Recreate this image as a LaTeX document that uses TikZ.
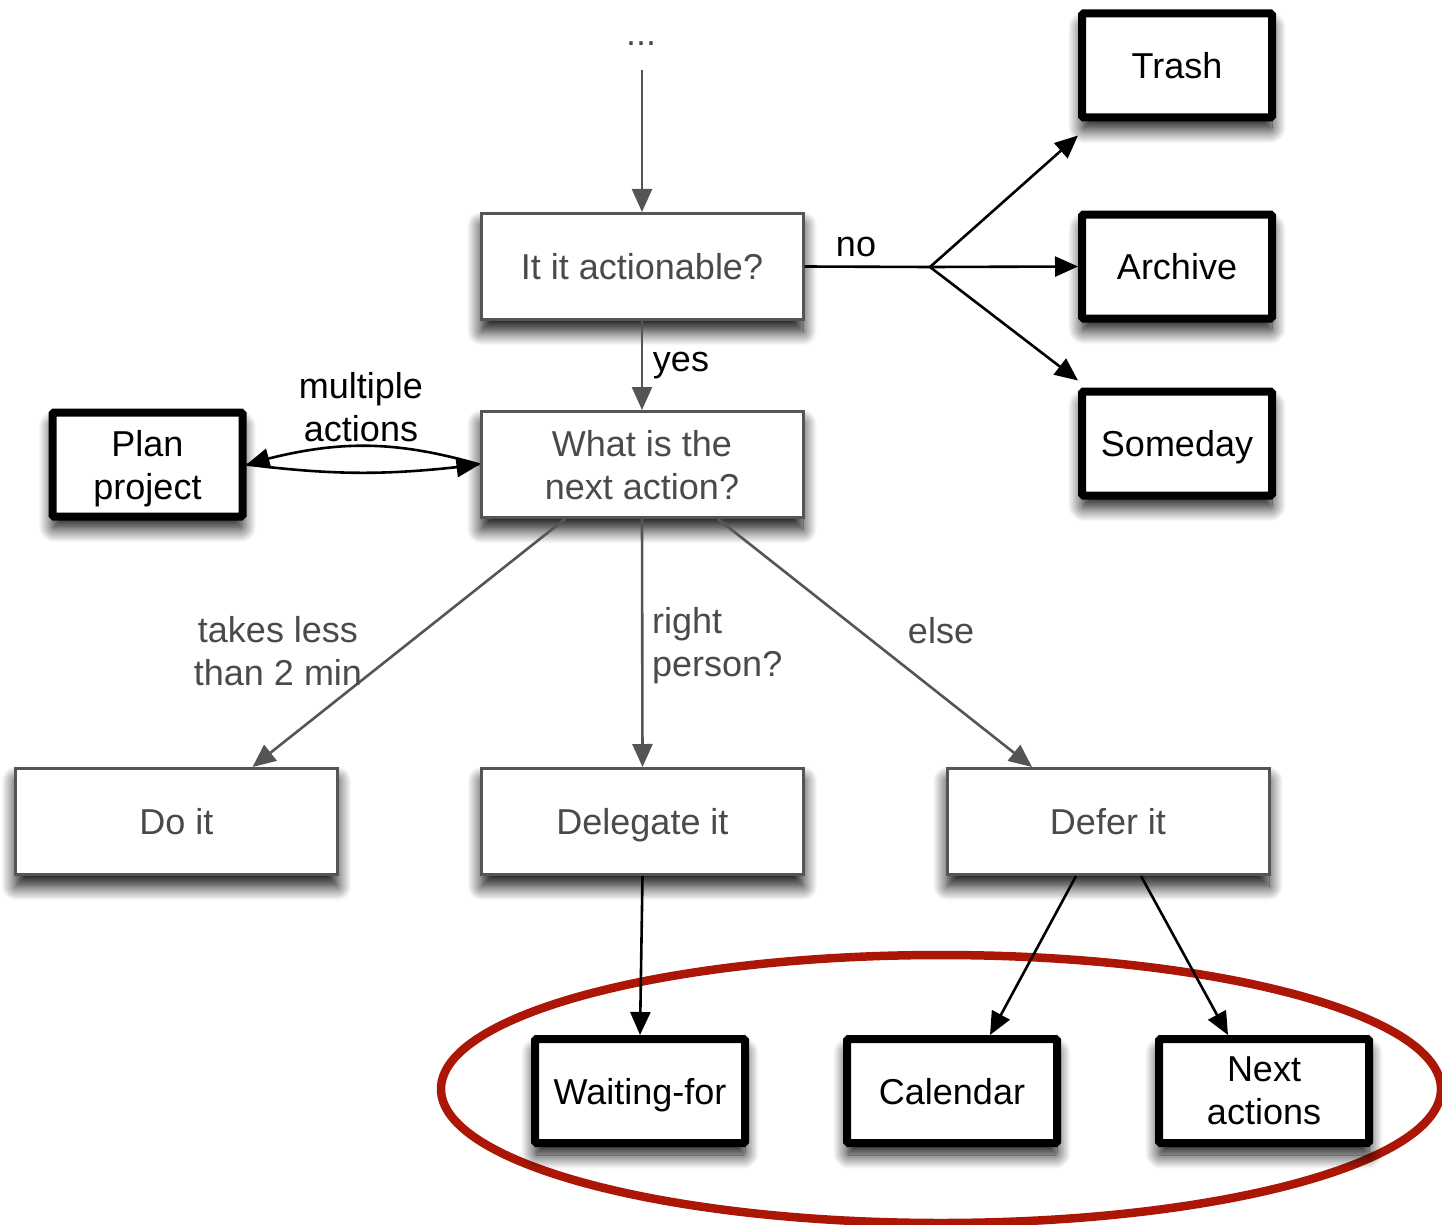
\documentclass[tikz,border=0pt]{standalone}
\usepackage{fontspec}
\setmainfont{Liberation Sans}
\usetikzlibrary{arrows.meta,shadows.blur,bending}
\definecolor{boxgray}{HTML}{555555}
\definecolor{txtgray}{HTML}{4A4A4A}
\definecolor{ringred}{RGB}{172,22,6}

\begin{document}
\begin{tikzpicture}[x=1pt,y=-1pt,
  every node/.style={font=\fontsize{36}{43}\selectfont, inner sep=0pt, text depth=0pt},
  dropshadow/.style={blur shadow={shadow xshift=0pt, shadow yshift=-12pt,
      shadow blur radius=14pt, shadow blur steps=16, shadow opacity=95}},
  softbox/.style={draw=boxgray, line width=3pt, fill=white,
      minimum width=322pt, minimum height=106pt, text=txtgray, align=center, dropshadow},
  hardbox/.style={draw=black, line width=8pt, fill=white, rounded corners=1.5pt,
      minimum width=190pt, minimum height=104pt, text=black, align=center, dropshadow},
  listbox/.style={hardbox, minimum width=210pt},
  tip/.style={-{Triangle[length=23pt,width=20pt]}},
  gline/.style={draw=boxgray, line width=2.6pt, tip},
  bline/.style={draw=black, line width=2.6pt, tip},
  glabel/.style={text=txtgray, align=center},
  blabel/.style={text=black, align=center}]

\useasboundingbox (0,0) rectangle (1442,1225);

% highlight ring around the three lists
\draw[ringred, line width=8.5pt] (941,1089) ellipse [x radius=500, y radius=134];

% top row
\node[glabel] (dots) at (641,44) {...};
\coordinate (dotsend) at (642,70);
\node[softbox] (act) at (642,266.5) {It it actionable?};

% discard side
\node[hardbox] (trash) at (1177,65.5) {Trash};
\node[hardbox] (archive) at (1177,266.5) {Archive};
\node[hardbox] (someday) at (1177,443.5) {Someday};

% second row
\node[softbox] (next) at (642,464.5) {What is the\\next action?};
\node[hardbox] (plan) at (147.5,464.5) {Plan\\project};

% outcomes
\node[softbox] (doit) at (176.5,821.5) {Do it};
\node[softbox] (delegate) at (642.5,821.5) {Delegate it};
\node[softbox] (defer) at (1108,821.5) {Defer it};

% lists
\node[listbox] (waiting) at (640,1091) {Waiting-for};
\node[listbox] (calendar) at (952,1091) {Calendar};
\node[listbox] (nexta) at (1264,1091) {Next\\actions};

% connectors
\draw[gline] (dotsend) -- (act.north);

\coordinate (fork) at (930,267);
\draw[black, line width=2.6pt] (act.east) -- (fork);
\draw[bline] (fork) -- ([yshift=-14pt]trash.south west);
\draw[bline] (fork) -- (archive.west);
\draw[bline] (fork) -- ([yshift=7pt]someday.north west);
\node[blabel] (nolab) at (856,247) {no};

\draw[gline] (act.south) -- (next.north);
\node[blabel] (yeslab) at (681,362) {yes};

\draw[bline] (next.west) to[bend right=16] (plan.east);
\draw[bline] (plan.east) to[bend right=7] (next.west);
\node[blabel] (multlab) at (361,407) {multiple\\actions};

\draw[gline] ([xshift=-77pt]next.south) -- ([xshift=76pt]doit.north);
\draw[gline] (next.south) -- (delegate.north);
\draw[gline] ([xshift=76pt]next.south) -- ([xshift=-76pt]defer.north);
\node[glabel] (twomin) at (278,651) {takes less\\than 2 min};
\node[glabel, align=left, anchor=west] (rightlab) at (652,642) {right\\person?};
\node[glabel] (elselab) at (941,630) {else};

\draw[bline] (delegate.south) -- (waiting.north);
\draw[bline] ([xshift=-32pt]defer.south) -- ([xshift=38pt]calendar.north);
\draw[bline] ([xshift=33pt]defer.south) -- ([xshift=-36pt]nexta.north);
\end{tikzpicture}
\end{document}
